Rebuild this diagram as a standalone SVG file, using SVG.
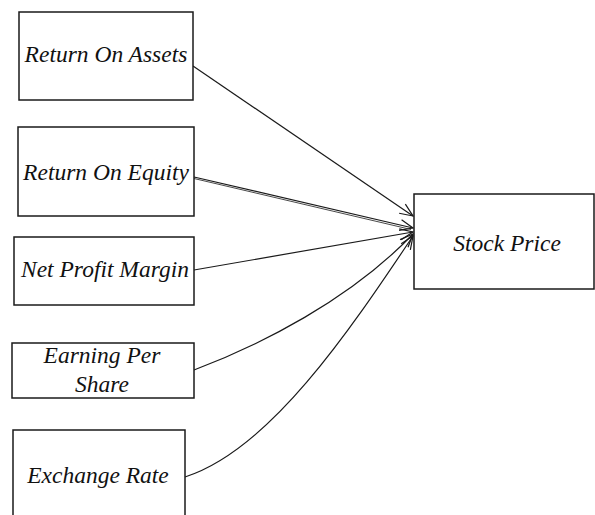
<svg xmlns="http://www.w3.org/2000/svg" width="595" height="515" viewBox="0 0 595 515">
  <defs>
    <style>
      .box { fill: #ffffff; stroke: #1a1a1a; stroke-width: 1.5; }
      .lbl { font-family: 'Liberation Serif', 'Times New Roman', serif; font-style: italic; font-size: 23.5px; fill: #111111; text-anchor: middle; }
      .edge { fill: none; stroke: #1a1a1a; stroke-width: 1.2; marker-end: url(#open); }
    </style>
    <marker id="open" viewBox="-14 -7 16 14" refX="0" refY="0" markerWidth="16" markerHeight="14" markerUnits="userSpaceOnUse" orient="auto">
      <path d="M -13 -5.5 L 0 0 L -13 5.5" fill="none" stroke="#1a1a1a" stroke-width="1.2"/>
    </marker>
  </defs>
  <rect width="595" height="515" fill="#ffffff"/>

  <g id="connectors">
    <path class="edge" d="M 193 66 L 413 216"/>
    <path class="edge" d="M 194 177 L 413 228"/>
    <path d="M 194 178.5 L 411 229.5" fill="none" stroke="#1a1a1a" stroke-width="0.8"/>
    <path class="edge" d="M 194 270 L 413 232"/>
    <path class="edge" d="M 194 370 C 260 345 350 300 413 234"/>
    <path class="edge" d="M 185 477 C 270 450 350 330 413 236"/>
  </g>

  <g id="roa">
    <rect class="box" x="19" y="12" width="174" height="88"/>
    <text class="lbl" x="106" y="62">Return On Assets</text>
  </g>
  <g id="roe">
    <rect class="box" x="18" y="127" width="176" height="89"/>
    <text class="lbl" x="106" y="180">Return On Equity</text>
  </g>
  <g id="npm">
    <rect class="box" x="14" y="237" width="180" height="68"/>
    <text class="lbl" x="105" y="277">Net Profit Margin</text>
  </g>
  <g id="eps">
    <rect class="box" x="12" y="343" width="182" height="55"/>
    <text class="lbl" x="102" y="363">Earning Per</text>
    <text class="lbl" x="102" y="392">Share</text>
  </g>
  <g id="exchange">
    <rect class="box" x="13" y="430" width="172" height="100"/>
    <text class="lbl" x="98" y="483">Exchange Rate</text>
  </g>
  <g id="stock">
    <rect class="box" x="414" y="194" width="180" height="95"/>
    <text class="lbl" x="507" y="251">Stock Price</text>
  </g>
</svg>
